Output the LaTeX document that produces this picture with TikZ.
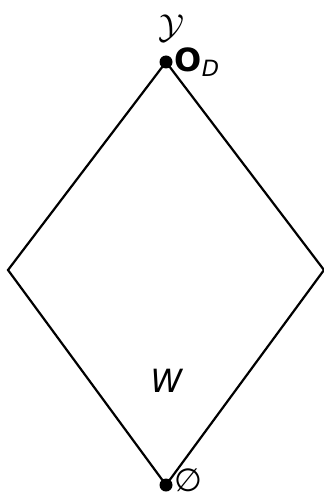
\documentclass[tikz,border=0pt]{standalone}
\usepackage{amsmath}
\usepackage{fontspec}
\setmainfont{DejaVu Sans}
\usetikzlibrary{positioning}

\tikzset{
  pt/.style={circle, fill=black, inner sep=0pt, minimum size=6.5pt},
  lbl/.style={font=\fontsize{16}{19}\selectfont, inner sep=1pt}
}

\begin{document}
\begin{tikzpicture}[x=0.5pt, y=-0.5pt, line width=1.1pt]
  \useasboundingbox (0,0) rectangle (324,497);
  % vertices of the lattice
  \node[pt] (top) at (166,62) {};
  \node[pt] (bot) at (166,485) {};
  \coordinate (left) at (8,270);
  \coordinate (right) at (324,270);
  % edges
  \draw (bot.center) -- (left) -- (top.center) -- (right) -- cycle;
  % labels
  \node[lbl, font=\fontsize{19}{22}\selectfont] (ylab) at (171,28) {$\mathcal{Y}$};
  \node[lbl, right=-1pt of top] (od) {\textbf{O}\textsubscript{\textit{D}}};
  \node[lbl, right=-1pt of bot, yshift=2.5pt] (empty) {∅};
  \node[lbl] (wlab) at (167,381) {\textit{W}};
\end{tikzpicture}
\end{document}
